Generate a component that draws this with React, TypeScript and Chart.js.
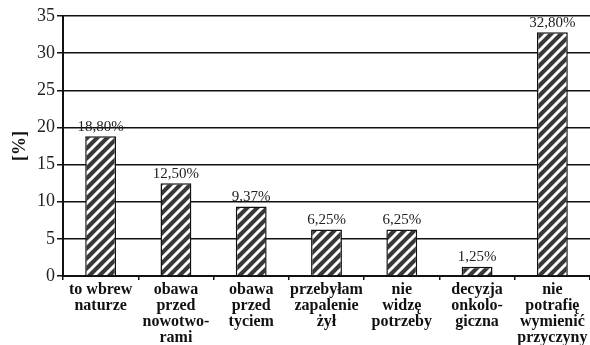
import React, { useEffect, useRef } from "react";
import { Chart, registerables } from "chart.js";

Chart.register(...registerables);

// Reasons given by respondents, percentage of answers
const categories: string[][] = [
  ["to wbrew", "naturze"],
  ["obawa", "przed", "nowotwo-", "rami"],
  ["obawa", "przed", "tyciem"],
  ["przebyłam", "zapalenie", "żył"],
  ["nie", "widzę", "potrzeby"],
  ["decyzja", "onkolo-", "giczna"],
  ["nie", "potrafię", "wymienić", "przyczyny"],
];
const values: number[] = [18.8, 12.5, 9.37, 6.25, 6.25, 1.25, 32.8];
const valueLabels: string[] = ["18,80%", "12,50%", "9,37%", "6,25%", "6,25%", "1,25%", "32,80%"];
// labels that sit on a white box so the grid line behind them is hidden
const maskedLabels: number[] = [1];
const yTicks: number[] = [0, 5, 10, 15, 20, 25, 30, 35];

const SERIF = "'Liberation Serif', 'DejaVu Serif', serif";

function makeHatch(): CanvasPattern | string {
  const size = 10;
  const c = document.createElement("canvas");
  c.width = size;
  c.height = size;
  const g = c.getContext("2d");
  if (!g) return "#3c3c3c";
  g.fillStyle = "#383838";
  g.fillRect(0, 0, size, size);
  g.strokeStyle = "#ffffff";
  g.lineWidth = 3;
  g.beginPath();
  g.moveTo(-2, size + 2);
  g.lineTo(size + 2, -2);
  g.moveTo(-2, 2);
  g.lineTo(2, -2);
  g.moveTo(size - 2, size + 2);
  g.lineTo(size + 2, size - 2);
  g.stroke();
  const p = g.createPattern(c, "repeat");
  return p || "#3c3c3c";
}

const valueLabelPlugin = {
  id: "valueLabels",
  afterDatasetsDraw(chart: any) {
    const ctx = chart.ctx;
    const meta = chart.getDatasetMeta(0);
    ctx.save();
    ctx.font = `15px ${SERIF}`;
    ctx.textAlign = "center";
    ctx.textBaseline = "bottom";
    meta.data.forEach((bar: any, i: number) => {
      const text = valueLabels[i];
      const x = bar.x;
      const y = bar.y - 2;
      if (maskedLabels.includes(i)) {
        const w = ctx.measureText(text).width;
        ctx.fillStyle = "#ffffff";
        ctx.fillRect(x - w / 2 - 3, y - 15, w + 6, 14);
      }
      ctx.fillStyle = "#222222";
      ctx.fillText(text, x, y);
    });
    ctx.restore();
  },
};

export default function App() {
  const canvasRef = useRef<HTMLCanvasElement | null>(null);

  useEffect(() => {
    document.body.style.margin = "0";
    const canvas = canvasRef.current;
    if (!canvas) return;
    const hatch = makeHatch();
    const chart = new Chart(canvas, {
      type: "bar",
      data: {
        labels: categories,
        datasets: [
          {
            data: values,
            backgroundColor: hatch as any,
            borderColor: "#111111",
            borderWidth: 1.5,
            categoryPercentage: 1,
            barPercentage: 0.41,
          },
        ],
      },
      options: {
        animation: false,
        responsive: false,
        maintainAspectRatio: false,
        layout: { padding: { top: 16, right: 0, left: 0, bottom: 0 } },
        plugins: {
          legend: { display: false },
          tooltip: { enabled: false },
        },
        scales: {
          x: {
            offset: true,
            afterFit: (s: any) => {
              s.height = 69;
            },
            grid: {
              offset: true,
              drawOnChartArea: false,
              drawTicks: true,
              tickLength: 4,
              color: "#111111",
              lineWidth: 1.5,
            },
            border: { display: true, color: "#111111", width: 2 },
            ticks: {
              color: "#111111",
              padding: 2,
              maxRotation: 0,
              autoSkip: false,
              font: { family: SERIF, size: 16, weight: "bold", lineHeight: 1.0 },
            },
          },
          y: {
            min: 0,
            max: 35,
            afterFit: (s: any) => {
              s.width = 63;
            },
            afterBuildTicks: (s: any) => {
              s.ticks = yTicks.map((v) => ({ value: v }));
            },
            grid: {
              color: "#111111",
              lineWidth: 1.5,
              tickLength: 6,
            },
            border: { display: true, color: "#111111", width: 2 },
            ticks: {
              color: "#222222",
              padding: 2,
              font: { family: SERIF, size: 18 },
            },
            title: {
              display: true,
              text: "[%]",
              color: "#111111",
              padding: { top: 10, bottom: 4 },
              font: { family: SERIF, size: 18, weight: "bold" },
            },
          },
        },
      },
      plugins: [valueLabelPlugin],
    });
    return () => chart.destroy();
  }, []);

  return (
    <div style={{ width: 590, height: 345 }}>
      <canvas ref={canvasRef} width={590} height={345} style={{ display: "block" }} />
    </div>
  );
}
